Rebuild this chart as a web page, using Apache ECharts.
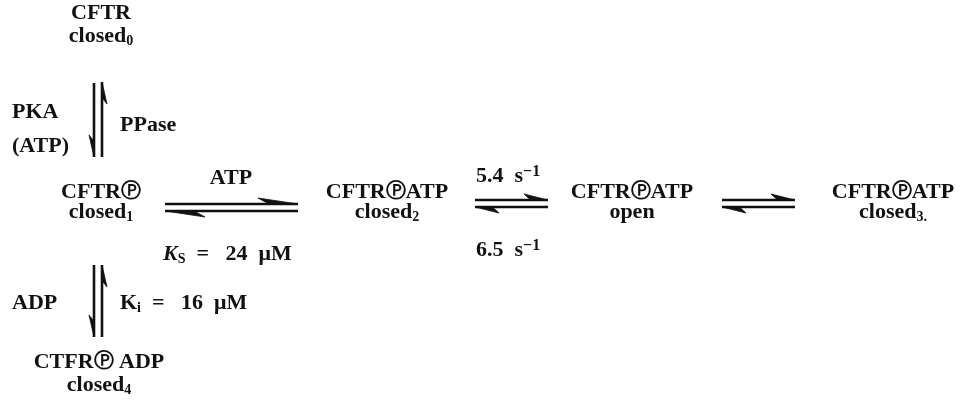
<!DOCTYPE html>
<html><head><meta charset="utf-8">
<script src="https://cdn.jsdelivr.net/npm/echarts@6/dist/echarts.min.js"></script>
<style>html,body{margin:0;padding:0;background:#fff}#c{width:961px;height:400px}</style>
</head><body><div id="c"></div>
<script>
// ---- content ----
const stateNames = ['{b|CFTR}', '{b|CFTR}{c|Ⓟ}', '{b|CFTR}{c|Ⓟ}{b|ATP}', '{b|CFTR}{c|Ⓟ}{b|ATP}', '{b|CFTR}{c|Ⓟ}{b|ATP}', '{b|CTFR}{c|Ⓟ}{b| ADP}'];
const stateConformations = ['{b|closed}{sub|0}', '{b|closed}{sub|1}', '{b|closed}{sub|2}', '{b|open}', '{b|closed}{sub|3.}', '{b|closed}{sub|4}'];
const transitionLabels = ['{b|PKA}', '{b|(ATP)}', '{b|PPase}', '{b|ATP}', '{i|K}{subi|S}{b|\u2002=\u2002 24\u2002μM}',
  '{b|5.4\u2002s}{sup|−1}', '{b|6.5\u2002s}{sup|−1}', '{b|ADP}', '{b|K}{sub|i}{b|\u2002=\u2002 16\u2002μM}'];

// ---- layout (pixel frame of the 961x400 picture) ----
const stateLayout = [[101, 13, 36], [101, 192, 212], [387, 192, 212], [632, 192, 212], [893, 192, 212], [99, 362, 385]];
const labelLayout = [[12, 112, 'left'], [12, 146, 'left'], [120, 125, 'left'], [231, 178, 'center'], [163, 254, 'left'],
  [476, 176, 'left'], [476, 250, 'left'], [12, 303, 'left'], [120, 303, 'left']];
// [x1, y1, x2, y2, side, barbLen, barbHeight]
const arrowLayout = [
  [94, 83, 94, 157, 1, 22, 5], [102, 157, 102, 82, 1, 22, 5],
  [165, 204, 298, 204, -1, 40, 6], [298, 211, 165, 211, -1, 40, 6],
  [475, 200, 548, 200, -1, 24, 6], [548, 207, 475, 207, -1, 24, 6],
  [722, 200, 795, 200, -1, 24, 6], [795, 207, 722, 207, -1, 24, 6],
  [94, 265, 94, 337, 1, 22, 5], [102, 337, 102, 265, 1, 22, 5]
];

const FONT = '"Liberation Serif","Times New Roman","DejaVu Serif",serif';
const INK = '#111';
const rich = {
  b: {fontFamily: FONT, fontWeight: 'bold', fontSize: 22, lineHeight: 24, color: INK},
  c: {fontFamily: '"DejaVu Sans","Noto Sans",sans-serif', fontWeight: 'bold', fontSize: 20, lineHeight: 24, verticalAlign: 'middle', color: INK},
  i: {fontFamily: FONT, fontWeight: 'bold', fontStyle: 'italic', fontSize: 22, lineHeight: 24, color: INK},
  sub: {fontFamily: FONT, fontWeight: 'bold', fontSize: 14, lineHeight: 8, verticalAlign: 'bottom', color: INK},
  subi: {fontFamily: FONT, fontWeight: 'bold', fontSize: 14, lineHeight: 8, verticalAlign: 'bottom', color: INK},
  sup: {fontFamily: FONT, fontWeight: 'bold', fontSize: 16, lineHeight: 13, verticalAlign: 'top', color: INK}
};

const texts = [];
stateNames.forEach((s, i) => {
  const L = stateLayout[i];
  texts.push({value: [L[0], L[1]], text: s, align: 'center'});
  texts.push({value: [L[0], L[2]], text: stateConformations[i], align: 'center'});
});
transitionLabels.forEach((t, i) => {
  const L = labelLayout[i];
  texts.push({value: [L[0], L[1]], text: t, align: L[2]});
});

const chart = echarts.init(document.getElementById('c'), null, {renderer: 'canvas'});
chart.setOption({
  animation: false,
  backgroundColor: '#fff',
  grid: {left: 0, right: 0, top: 0, bottom: 0},
  xAxis: {type: 'value', min: 0, max: 961, show: false},
  yAxis: {type: 'value', min: 0, max: 400, inverse: true, show: false},
  series: [
    {
      type: 'custom',
      data: arrowLayout.map(a => a.slice(0, 4)),
      encode: {x: [0, 2], y: [1, 3]},
      renderItem: function (params, api) {
        const a = arrowLayout[params.dataIndex];
        const p1 = api.coord([api.value(0), api.value(1)]);
        const p2 = api.coord([api.value(2), api.value(3)]);
        const dx = p2[0] - p1[0], dy = p2[1] - p1[1];
        const len = Math.hypot(dx, dy);
        const ux = dx / len, uy = dy / len;
        const nx = -uy * a[4], ny = ux * a[4];
        const bl = a[5], bh = a[6];
        const barbEnd = [p2[0] - ux * bl + nx * bh, p2[1] - uy * bl + ny * bh];
        const inner = [p2[0] - ux * bl * 0.75 + nx * 0.6, p2[1] - uy * bl * 0.75 + ny * 0.6];
        return {
          type: 'group',
          children: [
            {type: 'line', shape: {x1: p1[0], y1: p1[1], x2: p2[0], y2: p2[1]}, style: {stroke: INK, lineWidth: 2.6}},
            {type: 'polygon', shape: {points: [p2, barbEnd, inner]}, style: {fill: INK, stroke: INK, lineWidth: 0.8}}
          ]
        };
      }
    },
    {
      type: 'custom',
      data: texts.map(t => t.value),
      renderItem: function (params, api) {
        const t = texts[params.dataIndex];
        const p = api.coord([api.value(0), api.value(1)]);
        return {
          type: 'text', x: p[0], y: p[1],
          style: {text: t.text, rich: rich, align: t.align, verticalAlign: 'middle', fill: INK}
        };
      }
    }
  ]
});
</script></body></html>
